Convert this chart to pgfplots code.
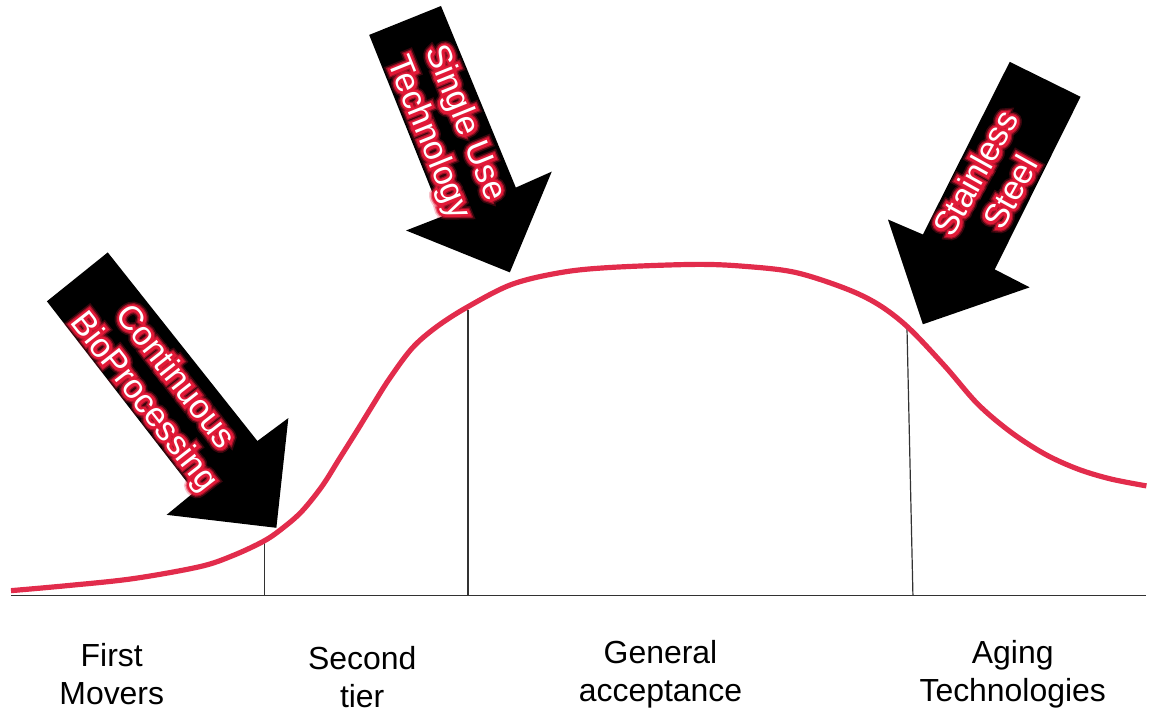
\documentclass[border=0pt]{standalone}
\usepackage{pgfplots}
\pgfplotsset{compat=1.18}
\usepackage{fontspec}
\setmainfont{Liberation Sans}
% emboldened cuts of the same face, used for the halo round the arrow labels
\newfontfamily\haloinner[FakeBold=14]{Liberation Sans}
\newfontfamily\halomid[FakeBold=21]{Liberation Sans}
\newfontfamily\haloouter[FakeBold=30]{Liberation Sans}
\definecolor{curvered}{RGB}{226,44,76}
\definecolor{glowred}{RGB}{225,25,55}
\definecolor{rulegray}{RGB}{50,50,50}

% white label with a red halo, drawn at a named coordinate
\newcommand{\glowlabel}[3]{%
  \node[rotate=#2, align=center, text=glowred, opacity=0.25,
        font=\haloouter\fontsize{17}{20}\selectfont] at (#1) {#3};
  \node[rotate=#2, align=center, text=glowred, opacity=0.55,
        font=\halomid\fontsize{17}{20}\selectfont] at (#1) {#3};
  \node[rotate=#2, align=center, text=glowred,
        font=\haloinner\fontsize{17}{20}\selectfont] at (#1) {#3};
  \node[rotate=#2, align=center, text=white,
        font=\fontsize{17}{20}\selectfont] at (#1) {#3};
}

\begin{document}
\begin{tikzpicture}
\begin{axis}[
  width=574.5pt, height=357.5pt, scale only axis,
  xmin=0, xmax=1149, ymin=0, ymax=715, y dir=reverse,
  hide axis, clip=false,
]
\path (rel axis cs:0,0) rectangle (rel axis cs:1,1);

% baseline and phase boundaries
\addplot[rulegray, line width=0.8pt] coordinates {(11,597) (1149,597)};
\addplot[rulegray, line width=0.6pt] coordinates {(265,542) (265,597)};
\addplot[rulegray, line width=0.6pt] coordinates {(469,311) (469,597)};
\addplot[rulegray, line width=0.6pt] coordinates {(909,327) (915,597)};

% adoption curve
\addplot[curvered, line width=2.6pt, smooth, tension=0.55] coordinates {
  (11,592) (67,587) (133,580) (200,568) (233,557) (265,542) (285,528)
  (303,512) (323,487) (340,460) (357,433) (373,407) (390,380) (413,349)
  (437,328) (468,308) (513,285) (563,273) (613,268) (697,265) (747,267)
  (797,273) (847,289) (880,305) (910,328) (947,367) (980,405) (1013,433)
  (1047,455) (1080,470) (1113,480) (1149,487)
};

% arrows
\addplot[fill=black, draw=none] coordinates {
  (47,302) (108,253) (258,442) (289,419) (277,529) (167,516) (195,493)} --cycle;
\addplot[fill=black, draw=none] coordinates {
  (370,35) (442,6) (517,188) (553,172) (511,273) (407,231) (443,217)} --cycle;
\addplot[fill=black, draw=none] coordinates {
  (1012,62) (1083,97) (997,270) (1032,288) (925,325) (890,220) (925,235)} --cycle;

\coordinate (t1) at (axis cs:159,391);
\coordinate (t2) at (axis cs:447,131);
\coordinate (t3) at (axis cs:995,183);

% phase names
\node[align=center, font=\fontsize{16}{19}\selectfont] at (axis cs:112,676) {First\\Movers};
\node[align=center, font=\fontsize{16}{19}\selectfont] at (axis cs:363,679) {Second\\tier};
\node[align=center, font=\fontsize{16}{19}\selectfont] at (axis cs:662,676) {General\\acceptance};
\node[align=center, font=\fontsize{16}{19}\selectfont] at (axis cs:1015,676) {Aging\\Technologies};
\end{axis}

\glowlabel{t1}{-52}{Continuous\\BioProcessing}
\glowlabel{t2}{-68}{Single Use\\Technology}
\glowlabel{t3}{61}{Stainless\\Steel}
\end{tikzpicture}
\end{document}
